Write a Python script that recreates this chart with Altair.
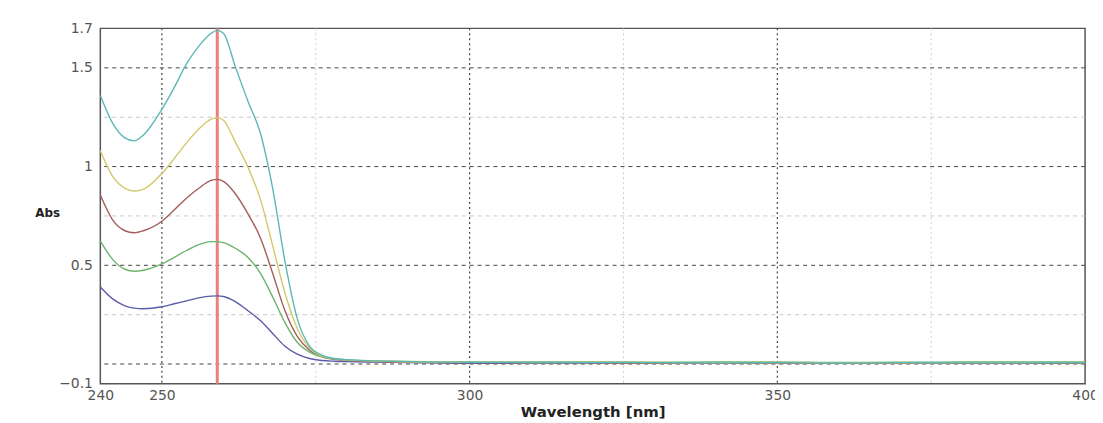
import altair as alt
import pandas as pd

# ---- data ----
wl = [240, 242, 244, 245.5, 247, 250, 252, 254, 256, 258, 259, 260, 262, 264, 266, 268,
      270, 272, 274, 276, 278, 280, 285, 290, 300, 310, 320, 330, 340, 350, 360, 370,
      380, 390, 400]

teal = [1.36, 1.22, 1.145, 1.13, 1.16, 1.29, 1.40, 1.52, 1.61, 1.675, 1.69, 1.675, 1.50,
        1.33, 1.17, 0.89, 0.52, 0.23, 0.09, 0.045, 0.028, 0.022,
        0.016, 0.012, 0.009, 0.008, 0.008, 0.007, 0.006, 0.007, 0.005, 0.007, 0.006, 0.006, 0.007]
yellow = [1.08, 0.95, 0.89, 0.876, 0.885, 0.965, 1.04, 1.12, 1.19, 1.24, 1.248, 1.235, 1.12,
          0.996, 0.835, 0.60, 0.36, 0.18, 0.08, 0.04, 0.027, 0.021,
          0.015, 0.011, 0.009, 0.008, 0.009, 0.008, 0.007, 0.008, 0.006, 0.006, 0.007, 0.007, 0.008]
brown = [0.856, 0.73, 0.675, 0.665, 0.675, 0.723, 0.78, 0.84, 0.89, 0.93, 0.935, 0.925, 0.86,
         0.76, 0.64, 0.46, 0.27, 0.14, 0.07, 0.036, 0.024, 0.019,
         0.013, 0.009, 0.007, 0.006, 0.006, 0.005, 0.005, 0.006, 0.004, 0.005, 0.005, 0.005, 0.006]
green = [0.624, 0.53, 0.48, 0.47, 0.475, 0.507, 0.54, 0.575, 0.605, 0.62, 0.62, 0.615, 0.585,
         0.54, 0.46, 0.34, 0.21, 0.11, 0.06, 0.036, 0.026, 0.021,
         0.016, 0.013, 0.01, 0.01, 0.011, 0.009, 0.01, 0.011, 0.008, 0.009, 0.01, 0.01, 0.011]
blue = [0.39, 0.33, 0.295, 0.283, 0.28, 0.29, 0.305, 0.32, 0.335, 0.344, 0.345, 0.342, 0.315,
        0.27, 0.22, 0.155, 0.09, 0.05, 0.028, 0.018, 0.014, 0.012,
        0.01, 0.008, 0.004, 0.004, 0.005, 0.004, 0.005, 0.005, 0.003, 0.004, 0.004, 0.004, 0.005]

series_names = ["blue", "brown", "green", "yellow", "teal"]
series_colors = ["#5c5ca8", "#a45c5c", "#6cb46c", "#d2c86a", "#5cb8b4"]

x_ticks = [240, 250, 300, 350, 400]
y_ticks = [-0.1, 0.5, 1, 1.5, 1.7]
major_h = [1.5, 1, 0.5, 0]
minor_h = [1.25, 0.75, 0.25]
major_v = [250, 300, 350]
minor_v = [275, 325, 375]
marker_wl = [259]

# ---- build tables ----
vals = {"teal": teal, "yellow": yellow, "brown": brown, "green": green, "blue": blue}
rows = []
for name in series_names:
    for w, a in zip(wl, vals[name]):
        rows.append({"wl": w, "abs": a, "series": name})
df = pd.DataFrame(rows)

x_scale = alt.Scale(domain=[240, 400], nice=False, zero=False)
y_scale = alt.Scale(domain=[-0.1, 1.7], nice=False, zero=False)

x_axis = alt.Axis(values=x_ticks, grid=False, ticks=False, domain=False, labelFlush=False,
                  labelFont="DejaVu Sans", labelFontSize=14, labelColor="#555",
                  labelPadding=5, title="Wavelength [nm]", titleFont="DejaVu Sans",
                  titleFontSize=15, titleFontWeight="bold", titleColor="#222",
                  titlePadding=2)
y_axis = alt.Axis(values=y_ticks, format="~g", grid=False, ticks=False, domain=False,
                  labelFont="DejaVu Sans", labelFontSize=14, labelColor="#555",
                  labelPadding=8, labelFlush=False, title="Abs", titleAngle=0,
                  titleFont="DejaVu Sans", titleFontSize=12, titleFontWeight="bold",
                  titleColor="#222", titleX=-66, titleY=186, titleAlign="left",
                  titleBaseline="middle")

X = alt.X("wl:Q", scale=x_scale, axis=x_axis)
Y = alt.Y("abs:Q", scale=y_scale, axis=y_axis)

minor_h_layer = alt.Chart(pd.DataFrame({"abs": minor_h})).mark_rule(
    color="#c8c8c8", strokeWidth=1, strokeDash=[4, 4]).encode(y=Y)
minor_v_layer = alt.Chart(pd.DataFrame({"wl": minor_v})).mark_rule(
    color="#d0d0d0", strokeWidth=1, strokeDash=[2, 3]).encode(x=X)
major_h_layer = alt.Chart(pd.DataFrame({"abs": major_h})).mark_rule(
    color="#444", strokeWidth=1, strokeDash=[4, 4]).encode(y=Y)
major_v_layer = alt.Chart(pd.DataFrame({"wl": major_v})).mark_rule(
    color="#444", strokeWidth=1.2, strokeDash=[2, 3]).encode(x=X)
marker_layer = alt.Chart(pd.DataFrame({"wl": marker_wl})).mark_rule(
    color="#e98080", strokeWidth=3).encode(x=X)

lines = alt.Chart(df).mark_line(interpolate="monotone", strokeWidth=1.4).encode(
    x=X, y=Y,
    color=alt.Color("series:N", scale=alt.Scale(domain=series_names, range=series_colors),
                    legend=None),
)

chart = alt.layer(
    minor_h_layer, minor_v_layer, major_h_layer, major_v_layer, marker_layer, lines
).properties(
    width=992, height=358,
    autosize=alt.AutoSizeParams(type="none"),
    padding={"left": 93, "top": 19, "right": 10, "bottom": 38},
    background="white",
).configure_view(stroke="#555", strokeWidth=1.5)

chart.save("out.html", embed_options={"renderer": "svg", "actions": False})
